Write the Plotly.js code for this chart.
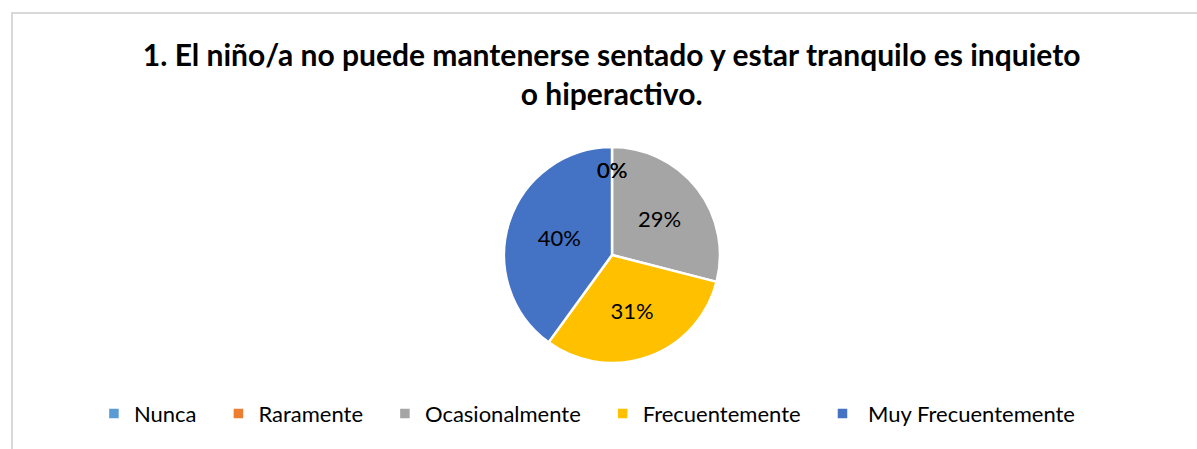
<!DOCTYPE html>
<html>
<head>
<meta charset="utf-8">
<script src="https://cdn.plot.ly/plotly-3.0.1.min.js"></script>
<style>
  html, body { margin: 0; padding: 0; background: #ffffff; }
  #wrap { position: relative; width: 1197px; height: 449px; overflow: hidden; }
  #chart { position: absolute; left: 0; top: 0; width: 1197px; height: 449px; }
  #frame { position: absolute; left: 11px; top: 12px; width: 1200px; height: 500px;
           border-left: 2px solid #d9d9d9; border-top: 2px solid #d9d9d9; pointer-events: none; }
</style>
</head>
<body>
<div id="wrap">
  <div id="chart"></div>
  <div id="frame"></div>
</div>
<script>
const chartTitle = "1. El niño/a no puede mantenerse sentado y estar tranquilo es inquieto<br>o hiperactivo.";
const categories = ["Nunca", "Raramente", "Ocasionalmente", "Frecuentemente", " Muy Frecuentemente"];
const values = [0, 0, 29, 31, 40];
const colors = ["#5B9BD5", "#ED7D31", "#A5A5A5", "#FFC000", "#4472C4"];

const FONT = "Lato, 'Open Sans', sans-serif";
const W = 1197, H = 449;
const M = { l: 27, r: 0, t: 147, b: 86 };

// Legend entries: keep the category text, add trailing non-breaking spaces for spacing
const NB = "\u00a0";
const legendLabels = categories.map((c, i) =>
  (c.startsWith(" ") ? NB + c.trim() : c) + (i < categories.length - 1 ? NB + NB + NB : ""));

const trace = {
  type: "pie",
  labels: legendLabels,
  values: values,
  marker: { colors: colors, line: { color: "#ffffff", width: 2.5 } },
  sort: false,
  direction: "clockwise",
  rotation: 0,
  textinfo: "percent",
  textposition: "inside",
  insidetextorientation: "horizontal",
  textfont: { family: FONT, size: 22, color: "#000000" },
  hoverinfo: "label+percent",
  showlegend: true
};

// Labels for zero-valued slices (Plotly does not draw text for empty slices):
// placed along the slice's (zero-width) angle, inside the pie.
const total = values.reduce((a, b) => a + b, 0);
const plotW = W - M.l - M.r, plotH = H - M.t - M.b;
const R = Math.min(plotW, plotH) / 2;
const annotations = [];
let cum = 0;
values.forEach((v, i) => {
  if (v === 0) {
    const ang = (cum / total) * 2 * Math.PI;
    const rr = 0.79 * R;
    annotations.push({
      xref: "paper", yref: "paper",
      x: 0.5 + (rr * Math.sin(ang)) / plotW,
      y: 0.5 + (rr * Math.cos(ang)) / plotH,
      text: Math.round((v / total) * 100) + "%",
      showarrow: false,
      font: { family: FONT, size: 22, color: "#000000" },
      xanchor: "center", yanchor: "middle"
    });
  }
  cum += v;
});

const layout = {
  width: W,
  height: H,
  paper_bgcolor: "#ffffff",
  plot_bgcolor: "#ffffff",
  margin: M,
  title: {
    text: "<b>" + chartTitle + "</b>",
    font: { family: FONT, size: 30, color: "#000000" },
    x: 0.511, xref: "container", xanchor: "center",
    y: 0.852, yref: "container", yanchor: "top"
  },
  legend: {
    orientation: "h",
    x: 0.479, xanchor: "center",
    y: -0.138, yanchor: "top",
    font: { family: FONT, size: 22, color: "#000000" },
    itemclick: false, itemdoubleclick: false
  },
  annotations: annotations
};

Plotly.newPlot("chart", [trace], layout, { displayModeBar: false, staticPlot: true });
</script>
</body>
</html>
